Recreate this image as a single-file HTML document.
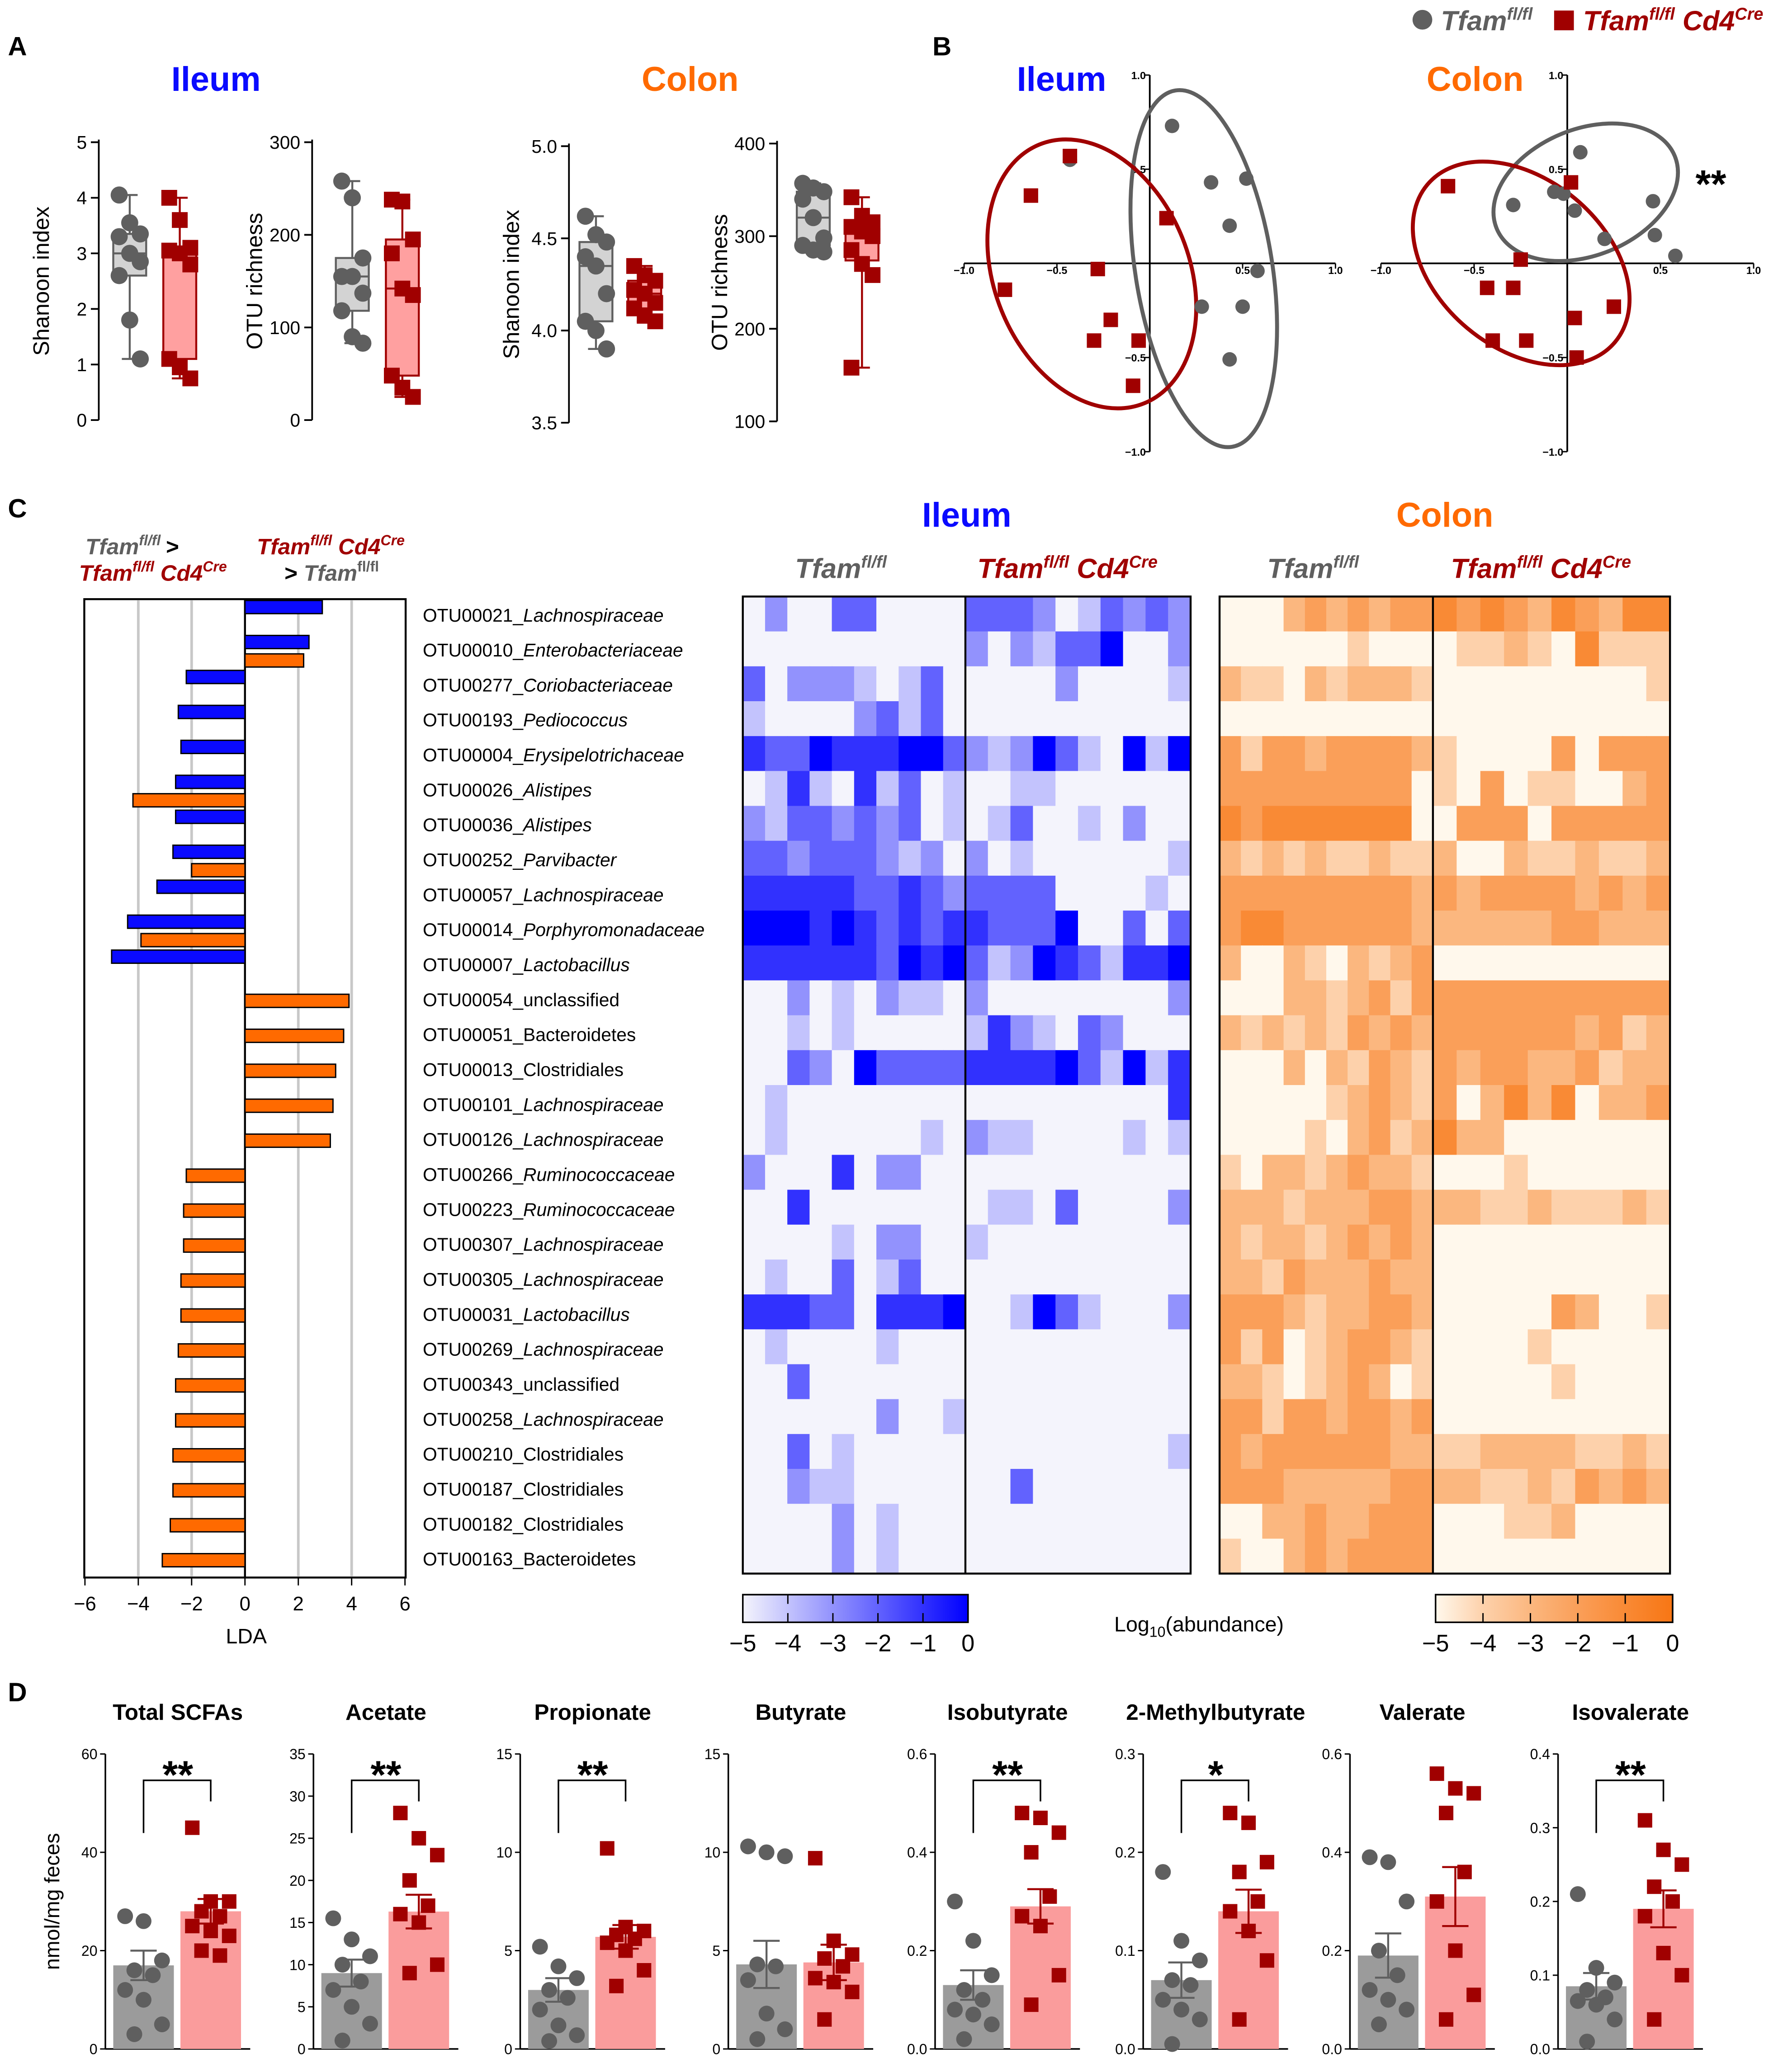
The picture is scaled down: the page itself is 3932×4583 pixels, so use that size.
<!DOCTYPE html>
<html><head><meta charset="utf-8">
<style>
html,body{margin:0;padding:0;background:#fff}
svg{display:block}
text{font-family:"Liberation Sans",Arial,sans-serif}
</style></head>
<body>
<svg id="fig" xmlns="http://www.w3.org/2000/svg" width="3932" height="4583" viewBox="0 0 1350 1573.5">
<rect width="1350" height="1573.5" fill="#fff"/>
<g id="root"></g>
</svg>
<script>
// ===== DATA =====
const aShannonIleumG=[4.05,3.55,3.35,3.3,3.0,2.85,2.6,1.8,1.1];
const aShannonIleumR=[4.0,3.6,3.1,3.05,3.0,2.8,1.1,0.95,0.75];
const aOtuIleumG=[258,240,175,155,155,137,118,90,83];
const aOtuIleumR=[238,236,195,180,142,135,48,35,25];
const aShannonColonG=[4.62,4.52,4.48,4.4,4.35,4.2,4.05,4.0,3.9];
const aShannonColonR=[4.35,4.3,4.27,4.22,4.2,4.15,4.12,4.08,4.05];
const aOtuColonG=[357,352,348,340,320,298,290,285,283];
const aOtuColonR=[342,322,315,310,305,300,285,270,258,158];
const pcaIleumG=[[0.12,0.73],[-0.43,0.55],[0.33,0.43],[0.52,0.45],[0.43,0.2],[0.58,-0.04],[0.5,-0.23],[0.28,-0.23],[0.43,-0.51]];
const pcaIleumR=[[-0.43,0.57],[-0.64,0.36],[0.09,0.24],[-0.28,-0.03],[-0.78,-0.14],[-0.21,-0.3],[-0.3,-0.41],[-0.06,-0.41],[-0.09,-0.65]];
const pcaColonG=[[0.07,0.59],[-0.07,0.38],[-0.29,0.31],[0.04,0.28],[0.2,0.13],[0.46,0.33],[0.47,0.15],[0.58,0.04],[-0.02,0.37]];
const pcaColonR=[[-0.64,0.41],[0.02,0.43],[-0.25,0.02],[-0.29,-0.13],[-0.43,-0.13],[0.25,-0.23],[0.04,-0.29],[-0.4,-0.41],[-0.22,-0.41],[0.05,-0.5]];
const otuIds=["OTU00021","OTU00010","OTU00277","OTU00193","OTU00004","OTU00026","OTU00036","OTU00252","OTU00057","OTU00014","OTU00007","OTU00054","OTU00051","OTU00013","OTU00101","OTU00126","OTU00266","OTU00223","OTU00307","OTU00305","OTU00031","OTU00269","OTU00343","OTU00258","OTU00210","OTU00187","OTU00182","OTU00163"];
const otuTaxa=["Lachnospiraceae","Enterobacteriaceae","Coriobacteriaceae","Pediococcus","Erysipelotrichaceae","Alistipes","Alistipes","Parvibacter","Lachnospiraceae","Porphyromonadaceae","Lactobacillus","unclassified","Bacteroidetes","Clostridiales","Lachnospiraceae","Lachnospiraceae","Ruminococcaceae","Ruminococcaceae","Lachnospiraceae","Lachnospiraceae","Lactobacillus","Lachnospiraceae","unclassified","Lachnospiraceae","Clostridiales","Clostridiales","Clostridiales","Bacteroidetes"];
const otuItalic=[1,1,1,1,1,1,1,1,1,1,1,0,0,0,1,1,1,1,1,1,1,1,0,1,0,0,0,0];
const ldaIleum=[2.9,2.4,-2.2,-2.5,-2.4,-2.6,-2.6,-2.7,-3.3,-4.4,-5.0,null,null,null,null,null,null,null,null,null,null,null,null,null,null,null,null,null];
const ldaColon=[null,2.2,null,null,null,-4.2,null,-2.0,null,-3.9,null,3.9,3.7,3.4,3.3,3.2,-2.2,-2.3,-2.3,-2.4,-2.4,-2.5,-2.6,-2.6,-2.7,-2.7,-2.8,-3.1];
const ldaTicks=[-6,-4,-2,0,2,4,6];
const heatIleum=[
"02003300003332013232","00000000002021335002","30222101300000200001","10000231300000000000",
"43354445532125310515","01410413010011000000","21332323010130010200","33233321202010000001",
"44444334323333000010","55545434344333500303","44444435453125431445","00201021102000000002",
"00101000001421032000","00320533334444531514","01000000000000000004","01000000102110000101",
"20004022000000000000","00400000000110300002","00001022001000000000","01003013000000000000",
"44433044450015310002","01000010000000000000","00300000000000000000","00000020010000000000",
"00301000000000000001","00211000000030000000","00002010000000000000","00002010000000000000"];
const heatColon=[
"00023232334343243244","00000010000112104111","21102122210000000001","00000000000000000000",
"31332333321000030333","33333333301030110023","43444444400333033333","21212112112002112112",
"33333333323233332323","34433333322222233222","20021021230000000000","00022123133333333333",
"21212132323333332312","00020213213233223122","00000123213024240223","00001023124220000000",
"10221232210001000000","22212223322211211121","21221232320000000000","22132223220000000000",
"33321223320000032001","31301233210000100000","22101232010000010000","33133233230000000000",
"32333333221122221121","33322222332211213232","00223223330001120000","10023233330000000000"];
const cbTicks=[-5,-4,-3,-2,-1,0];
const dTitles=["Total SCFAs","Acetate","Propionate","Butyrate","Isobutyrate","2-Methylbutyrate","Valerate","Isovalerate"];
const dMax=[60,35,15,15,0.6,0.3,0.6,0.4];
const dTicks=[[0,20,40,60],[0,5,10,15,20,25,30,35],[0,5,10,15],[0,5,10,15],[0,0.2,0.4,0.6],[0,0.1,0.2,0.3],[0,0.2,0.4,0.6],[0,0.1,0.2,0.3,0.4]];
const dTickLbl=[["0","20","40","60"],["0","5","10","15","20","25","30","35"],["0","5","10","15"],["0","5","10","15"],["0.0","0.2","0.4","0.6"],["0.0","0.1","0.2","0.3"],["0.0","0.2","0.4","0.6"],["0.0","0.1","0.2","0.3","0.4"]];
const dMeanG=[17,9,3,4.3,0.13,0.07,0.19,0.085];
const dMeanR=[28,16.3,5.7,4.4,0.29,0.14,0.31,0.19];
const dSemG=[3,1.6,0.6,1.2,0.03,0.018,0.045,0.018];
const dSemR=[2.5,2,0.6,0.9,0.035,0.022,0.06,0.025];
const dPtsG=[[27,26,18,16,15,12,10,5,3],[15.5,13,11,10,8,7,5,3,1],[5.2,4.2,3.6,3,2.6,2,1.2,0.7,0.4],[10.3,10,9.8,4.3,4.2,3.5,1.8,1,0.5],[0.3,0.22,0.15,0.12,0.1,0.08,0.07,0.05,0.02],[0.18,0.11,0.09,0.07,0.065,0.05,0.04,0.03,0.005],[0.39,0.38,0.3,0.2,0.15,0.12,0.1,0.08,0.05],[0.21,0.11,0.09,0.08,0.07,0.065,0.06,0.04,0.01]];
const dPtsR=[[45,30,30,28,27,25,24,23,20,19],[28,25,23,20,17,16,15,10,9],[10.2,6.2,6,5.8,5.6,5.4,5,4,3.2],[9.7,5.5,4.8,4.6,4.2,3.6,3.4,2.9,1.5],[0.48,0.47,0.44,0.4,0.31,0.27,0.25,0.15,0.09],[0.24,0.23,0.19,0.18,0.15,0.14,0.12,0.09,0.03],[0.56,0.53,0.52,0.48,0.36,0.3,0.2,0.11,0.06],[0.31,0.27,0.25,0.22,0.2,0.18,0.13,0.1,0.04]];
const dSig=["**","**","**","","**","*","","**"];

// ===== HELPERS =====
const NS="http://www.w3.org/2000/svg";
const root=document.getElementById('root');
function mk(tag,attrs,parent,txt){const e=document.createElementNS(NS,tag);for(const k in attrs)e.setAttribute(k,attrs[k]);if(txt!==undefined)e.textContent=txt;(parent||root).appendChild(e);return e;}
function grp(name,parent){const g=mk('g',{},parent);


return g;}
function txt(x,y,s,size,opts,parent){opts=opts||{};const t=mk('text',Object.assign({x:x,y:y,'font-size':size,fill:opts.fill||'#000','text-anchor':opts.anchor||'start'},opts.extra||{}),parent,s);
if(opts.weight)t.setAttribute('font-weight',opts.weight);
if(opts.italic)t.setAttribute('font-style','italic');


return t;}
const GREY='#5f5f5f',RED='#a00000',BLUE='#0a0aff',ORANGE='#ff6a00';

// ===== Legend top =====
const leg=grp('legend');
mk('circle',{cx:1080,cy:15,r:7.5,fill:GREY},leg);
let t=txt(1094,23,'Tfam',21,{fill:GREY,weight:'bold',italic:1,name:'legend-entry-control'},leg);
mk('tspan',{dy:-8,'font-size':13},t,'fl/fl');
mk('rect',{x:1180,y:8,width:15,height:15,fill:RED},leg);
t=txt(1202,23,'Tfam',21,{fill:RED,weight:'bold',italic:1,name:'legend-entry-cd4cre'},leg);
mk('tspan',{dy:-8,'font-size':13},t,'fl/fl');mk('tspan',{dy:8,'font-size':21},t,' Cd4');mk('tspan',{dy:-8,'font-size':13},t,'Cre');

txt(6,42,'A',20,{weight:'bold',name:'panel-letter-a'});
txt(708,42,'B',20,{weight:'bold',name:'panel-letter-b'});
txt(6,393,'C',20,{weight:'bold',name:'panel-letter-c'});
txt(6,1292,'D',20,{weight:'bold',name:'panel-letter-d'});
txt(164,69,'Ileum',26,{fill:BLUE,weight:'bold',anchor:'middle',name:'panel-a-ileum-title'});
txt(524,69,'Colon',26,{fill:ORANGE,weight:'bold',anchor:'middle',name:'panel-a-colon-title'});

// ===== Panel A =====
function quant(a,q){const s=[...a].sort((x,y)=>x-y);const p=(s.length-1)*q;const lo=Math.floor(p),hi=Math.ceil(p);return s[lo]+(s[hi]-s[lo])*(p-lo);}
function boxPlot(name,ax,y0px,y1px,vmin,vmax,ticks,ylabel,gx,rx,gv,rv,dec){
  const g=grp(name);
  const Y=v=>y0px-(v-vmin)/(vmax-vmin)*(y0px-y1px);
  mk('line',{x1:ax,y1:Y(vmax)-2,x2:ax,y2:y0px,stroke:'#000','stroke-width':1.3},g);
  ticks.forEach(v=>{mk('line',{x1:ax-6,x2:ax,y1:Y(v),y2:Y(v),stroke:'#000','stroke-width':1.3},g);
    txt(ax-9,Y(v)+5,dec?v.toFixed(1):String(v),14,{anchor:'end',name:'y-tick-label'},g);});
  const yl=txt(0,0,ylabel,17,{anchor:'middle',name:'y-axis-title'},g);
  yl.setAttribute('transform',`translate(${ax-38},${(y0px+Y(vmax))/2}) rotate(-90)`);
  [[gx,gv,GREY,'#d3d3d3'],[rx,rv,RED,'#ffa0a0']].forEach(([x,v,c,f],k)=>{
    const q1=quant(v,0.25),q3=quant(v,0.75),md=quant(v,0.5),mn=Math.min(...v),mxv=Math.max(...v);
    const w=25,cx=x+w/2;
    mk('line',{x1:cx,x2:cx,y1:Y(mxv),y2:Y(mn),stroke:c,'stroke-width':1.5},g);
    mk('line',{x1:cx-6,x2:cx+6,y1:Y(mxv),y2:Y(mxv),stroke:c,'stroke-width':1.5},g);
    mk('line',{x1:cx-6,x2:cx+6,y1:Y(mn),y2:Y(mn),stroke:c,'stroke-width':1.5},g);
    const b=mk('rect',{x:x,y:Y(q3),width:w,height:Y(q1)-Y(q3),fill:f,stroke:c,'stroke-width':1.5},g);
    
    
    mk('line',{x1:x,x2:x+w,y1:Y(md),y2:Y(md),stroke:c,'stroke-width':1.5},g);
    v.forEach((val,i)=>{const px=cx+((i%3)-1)*8;
      let p;
      if(k==0)p=mk('circle',{cx:px,cy:Y(val),r:6.5,fill:GREY},g);
      else p=mk('rect',{x:px-6,y:Y(val)-6,width:12,height:12,fill:RED},g);
      
      });
  });
}
boxPlot('shannon-ileum-plot',75,319,108,0,5,[0,1,2,3,4,5],'Shanoon index',86,124,aShannonIleumG,aShannonIleumR,false);
boxPlot('otu-ileum-plot',237,319,108,0,300,[0,100,200,300],'OTU richness',255,293,aOtuIleumG,aOtuIleumR,false);
boxPlot('shannon-colon-plot',432,321,111,3.5,5.0,[3.5,4.0,4.5,5.0],'Shanoon index',440,477,aShannonColonG,aShannonColonR,true);
boxPlot('otu-colon-plot',590,320,109,100,400,[100,200,300,400],'OTU richness',605,642,aOtuColonG,aOtuColonR,false);

// ===== Panel B =====
function pca(name,cx,cy,sx,sy,title,tcol,gp,rp,ellG,ellR,sig){
  const g=grp(name);
  const X=v=>cx+v*sx,Y=v=>cy-v*sy;
  mk('line',{x1:X(-1),x2:X(1),y1:cy,y2:cy,stroke:'#000','stroke-width':1.3},g);
  mk('line',{x1:cx,x2:cx,y1:Y(1),y2:Y(-1),stroke:'#000','stroke-width':1.3},g);
  [-1,-0.5,0.5,1].forEach(v=>{
    mk('line',{x1:X(v),x2:X(v),y1:cy,y2:cy+4,stroke:'#000'},g);
    txt(X(v),cy+8,v.toFixed(1).replace('-','−'),8,{anchor:'middle',weight:'bold',name:'x-tick-label'},g);
    mk('line',{x1:cx-4,x2:cx,y1:Y(v),y2:Y(v),stroke:'#000'},g);
    txt(cx-3,Y(v)+3,v.toFixed(1).replace('-','−'),8,{anchor:'end',weight:'bold',name:'y-tick-label'},g);
  });
  txt(title[1],69,title[0],26,{fill:tcol,weight:'bold',anchor:'middle',name:'pca-title'},g);
  mk('ellipse',{cx:ellG[0],cy:ellG[1],rx:ellG[2],ry:ellG[3],transform:`rotate(${ellG[4]} ${ellG[0]} ${ellG[1]})`,fill:'none',stroke:GREY,'stroke-width':3},g);
  mk('ellipse',{cx:ellR[0],cy:ellR[1],rx:ellR[2],ry:ellR[3],transform:`rotate(${ellR[4]} ${ellR[0]} ${ellR[1]})`,fill:'none',stroke:RED,'stroke-width':3},g);
  gp.forEach(p=>{const c=mk('circle',{cx:X(p[0]),cy:Y(p[1]),r:5.5,fill:GREY},g);
    
    });
  rp.forEach(p=>{const c=mk('rect',{x:X(p[0])-5.5,y:Y(p[1])-5.5,width:11,height:11,fill:RED},g);
    
    });
  if(sig)txt(1299,150,'**',30,{anchor:'middle',weight:'bold',name:'significance'},g);
}
pca('pca-ileum',873,200,141,143,['Ileum',806],BLUE,pcaIleumG,pcaIleumR,[914,204,52,137,-9],[829,208,74,106,-22],false);
pca('pca-colon',1190,200,141.5,143,['Colon',1120],ORANGE,pcaColonG,pcaColonR,[1204,146,73,48,-22],[1155,200,93,64,40],true);

// ===== Panel C: LDA =====
const lda=grp('lda-chart');
const LX=v=>186+v*20.25;
const rowY=i=>467+i*26.55;
mk('rect',{x:64,y:455,width:244,height:743,fill:'none',stroke:'#000','stroke-width':1.5},lda);
ldaTicks.forEach(v=>{ if(v!==0&&Math.abs(v)<6) mk('line',{x1:LX(v),x2:LX(v),y1:456,y2:1197,stroke:'#c8c8c8','stroke-width':2},lda);
  mk('line',{x1:LX(v),x2:LX(v),y1:1198,y2:1204,stroke:'#000'},lda);
  txt(LX(v),1223,v<0?'−'+(-v):String(v),15,{anchor:'middle',name:'x-tick-label'},lda);});
mk('line',{x1:186,x2:186,y1:455,y2:1198,stroke:'#000','stroke-width':1.5},lda);
txt(187,1248,'LDA',16,{anchor:'middle',name:'x-axis-title'},lda);
otuIds.forEach((id,i)=>{
  const c=rowY(i);
  const both=ldaIleum[i]!==null&&ldaColon[i]!==null;
  if(ldaIleum[i]!==null){const v=ldaIleum[i];const b=mk('rect',{x:Math.min(LX(0),LX(v)),y:c-11,width:Math.abs(LX(v)-LX(0)),height:10,fill:BLUE,stroke:'#000','stroke-width':1},lda);
    
    }
  if(ldaColon[i]!==null){const v=ldaColon[i];const b=mk('rect',{x:Math.min(LX(0),LX(v)),y:both?c+3:c-4,width:Math.abs(LX(v)-LX(0)),height:10,fill:ORANGE,stroke:'#000','stroke-width':1},lda);
    
    }
  const tl=txt(321,c+5,id+'_',14,{name:'otu-label'});
  const ts=mk('tspan',{},tl,otuTaxa[i]); if(otuItalic[i])ts.setAttribute('font-style','italic');
});
let h=txt(122,421,'Tfam',17,{fill:GREY,weight:'bold',italic:1,anchor:'end',name:'lda-header-control'});
mk('tspan',{dy:-7,'font-size':11},h,'fl/fl');
txt(126,421,'>',17,{weight:'bold',name:'gt'});
h=txt(60,441,'Tfam',17,{fill:RED,weight:'bold',italic:1,name:'lda-header-cd4cre'});
mk('tspan',{dy:-7,'font-size':11},h,'fl/fl');mk('tspan',{dy:7,'font-size':17},h,' Cd4');mk('tspan',{dy:-7,'font-size':11},h,'Cre');
h=txt(195,421,'Tfam',17,{fill:RED,weight:'bold',italic:1,name:'lda-header-cd4cre-2'});
mk('tspan',{dy:-7,'font-size':11},h,'fl/fl');mk('tspan',{dy:7,'font-size':17},h,' Cd4');mk('tspan',{dy:-7,'font-size':11},h,'Cre');
h=txt(216,441,'> ',17,{weight:'bold',name:'lda-header-control-2'});
mk('tspan',{fill:GREY,'font-style':'italic'},h,'Tfam');mk('tspan',{dy:-7,'font-size':11,fill:GREY},h,'fl/fl');

// ===== Heatmaps =====
function lerp(a,b,t){return Math.round(a+(b-a)*t);}
function blueC(v){const t=v/5;return `rgb(${lerp(244,0,t)},${lerp(244,0,t)},${lerp(252,255,t)})`;}
function orangeC(v){const t=Math.pow(v/5,0.75);return `rgb(${lerp(255,248,t)},${lerp(248,118,t)},${lerp(236,20,t)})`;}
function heat(name,x0,xm,x1,data,colf,title,tcol){
  const g=grp(name);
  const y0=453,rh=26.5;
  data.forEach((row,i)=>{for(let j=0;j<20;j++){
    const left=j<10;const cw=left?(xm-x0)/10:(x1-xm)/10;const x=left?x0+j*cw:xm+(j-10)*cw;
    const r=mk('rect',{x:x,y:y0+i*rh,width:cw+0.4,height:rh+0.4,fill:colf(+row[j])},g);
    
    }});
  mk('rect',{x:x0,y:y0,width:x1-x0,height:28*rh,fill:'none',stroke:'#000','stroke-width':1.5},g);
  mk('line',{x1:xm,x2:xm,y1:y0,y2:y0+28*rh,stroke:'#000','stroke-width':1.5},g);
  txt((x0+x1)/2,400,title,26,{fill:tcol,weight:'bold',anchor:'middle',name:'heatmap-title'},g);
  let a=txt((x0+xm)/2-10,439,'Tfam',21,{fill:GREY,weight:'bold',italic:1,anchor:'middle',name:'group-label-control'},g);
  mk('tspan',{dy:-8,'font-size':13},a,'fl/fl');
  a=txt((xm+x1)/2-8,439,'Tfam',21,{fill:RED,weight:'bold',italic:1,anchor:'middle',name:'group-label-cd4cre'},g);
  mk('tspan',{dy:-8,'font-size':13},a,'fl/fl');mk('tspan',{dy:8,'font-size':21},a,' Cd4');mk('tspan',{dy:-8,'font-size':13},a,'Cre');
}
heat('heatmap-ileum',564,733,904,heatIleum,blueC,'Ileum',BLUE);
heat('heatmap-colon',926,1088,1268,heatColon,orangeC,'Colon',ORANGE);
function cbar(name,x0,x1,colf,id){
  const g=grp(name);
  const d=mk('defs',{},g);const lg=mk('linearGradient',{id:id},d);
  [0,1,2,3,4,5].forEach(v=>mk('stop',{offset:String(v/5),'stop-color':colf(v)},lg));
  mk('rect',{x:x0,y:1211,width:x1-x0,height:21,fill:`url(#${id})`,stroke:'#000','stroke-width':1.2},g);
  cbTicks.forEach((v,i)=>{const x=x0+(v+5)/5*(x1-x0);
    mk('line',{x1:x,x2:x,y1:1211,y2:1218,stroke:'#000'},g);mk('line',{x1:x,x2:x,y1:1225,y2:1232,stroke:'#000'},g);
    txt(x,1254,v<0?'−'+(-v):'0',18,{anchor:'middle',name:'colorbar-tick'},g);});
}
cbar('colorbar-ileum',564,735,blueC,'gb');
cbar('colorbar-colon',1090,1270,orangeC,'go');
h=txt(846,1239,'Log',16,{name:'colorbar-title'});
mk('tspan',{dy:4,'font-size':11},h,'10');mk('tspan',{dy:-4,'font-size':16},h,'(abundance)');

// ===== Panel D =====
const dAx=[80,238,395,553,710,868,1025,1183];
dTitles.forEach((ti,k)=>{
  const g=grp('scfa-chart-'+ti.toLowerCase().replace(/[^a-z0-9]+/g,'-'));
  const ax=dAx[k],yb=1556,yt=1332;
  const Y=v=>yb-v/dMax[k]*(yb-yt);
  txt(ax+55,1306,ti,17,{weight:'bold',anchor:'middle',name:'chart-title'},g);
  mk('line',{x1:ax,x2:ax,y1:yt,y2:yb,stroke:'#000','stroke-width':1.2},g);
  mk('line',{x1:ax,x2:ax+110,y1:yb,y2:yb,stroke:'#000','stroke-width':1.2},g);
  dTicks[k].forEach((v,i)=>{mk('line',{x1:ax-4,x2:ax,y1:Y(v),y2:Y(v),stroke:'#000'},g);
    txt(ax-6,Y(v)+4,dTickLbl[k][i],11,{anchor:'end',name:'y-tick-label'},g);});
  [[6,dMeanG[k],dSemG[k],dPtsG[k],'#9b9b9b',GREY,0],[57,dMeanR[k],dSemR[k],dPtsR[k],'#fa9c9c',RED,1]].forEach(([off,m,s,pts,fill,c,isR])=>{
    const bx=ax+off,bw=46,cx=bx+bw/2;
    const b=mk('rect',{x:bx,y:Y(m),width:bw,height:yb-Y(m),fill:fill},g);
    
    
    pts.forEach((v,i)=>{const px=cx+[-14,0,14,-7,7][i%5];
      let p;
      if(!isR)p=mk('circle',{cx:px,cy:Y(v),r:6,fill:GREY},g);
      else p=mk('rect',{x:px-5.5,y:Y(v)-5.5,width:11,height:11,fill:RED},g);
      
      });
    mk('line',{x1:cx,x2:cx,y1:Y(m+s),y2:Y(m-s),stroke:c,'stroke-width':1.5},g);
    mk('line',{x1:cx-10,x2:cx+10,y1:Y(m+s),y2:Y(m+s),stroke:c,'stroke-width':1.5},g);
    mk('line',{x1:cx-10,x2:cx+10,y1:Y(m-s),y2:Y(m-s),stroke:c,'stroke-width':1.5},g);
  });
  if(dSig[k]){
    const by=1352;
    mk('path',{d:`M${ax+29},${by+40} V${by} H${ax+80} V${by+16}`,fill:'none',stroke:'#000','stroke-width':1.2},g);
    txt(ax+55,by+6,dSig[k],30,{weight:'bold',anchor:'middle',name:'significance'},g);
  }
  if(k===0){const yl=txt(0,0,'nmol/mg feces',16,{anchor:'middle',name:'y-axis-title'},g);
    yl.setAttribute('transform',`translate(45,1444) rotate(-90)`);}
});
</script>
</body></html>
